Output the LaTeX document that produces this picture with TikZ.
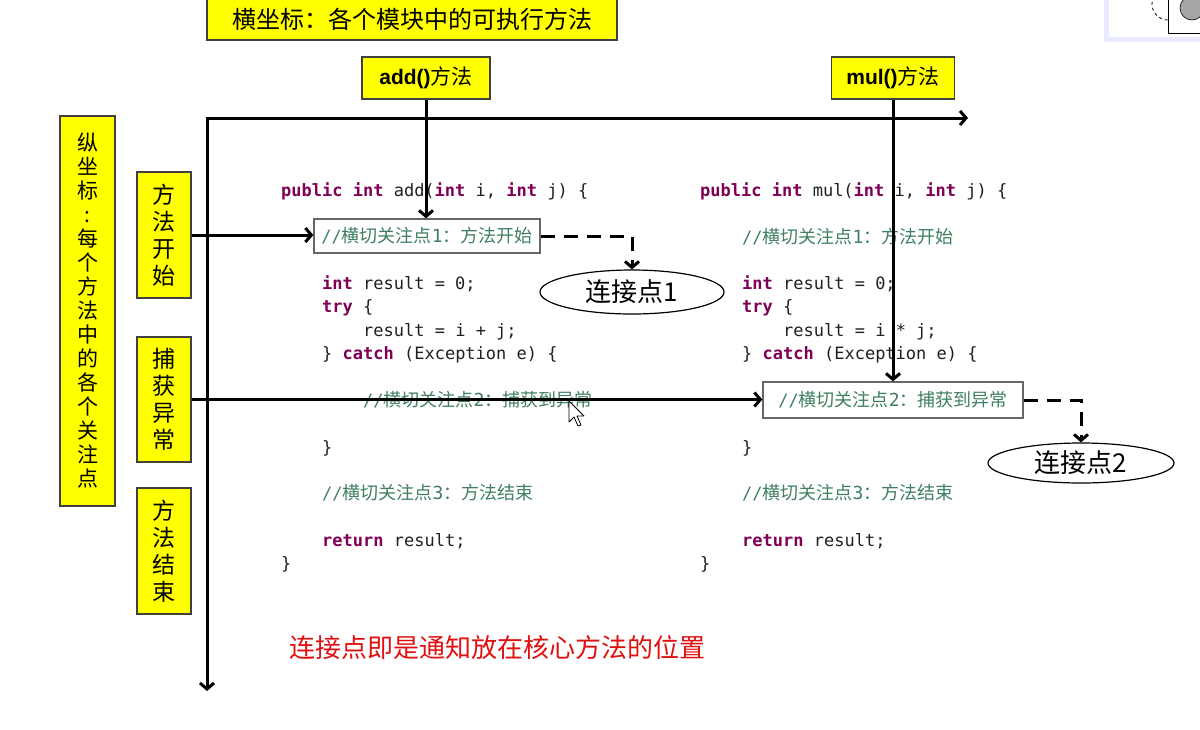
\documentclass[tikz,border=0pt]{standalone}
\usepackage{fontspec}
\usetikzlibrary{arrows.meta,shapes.geometric}
\newfontfamily\cjk{Noto Sans CJK SC}
\newfontfamily\mono{DejaVu Sans Mono}
\newfontfamily\lat{Liberation Sans}
\definecolor{kwc}{HTML}{7F0055}
\definecolor{cmc}{HTML}{3F7F5F}
\definecolor{yel}{HTML}{FFFF00}
\definecolor{codec}{HTML}{202020}
\definecolor{redc}{HTML}{E01010}
\newcommand{\kw}[1]{\textcolor{kwc}{\bfseries #1}}
\newcommand{\cmt}[3]{\textcolor{cmc}{\mono //\cjk\fontsize{18}{20}\selectfont #1\mono #2\cjk\fontsize{18}{20}\selectfont ：#3}}
\begin{document}
\begin{tikzpicture}[x=1pt,y=-1pt,
  ybox/.style={draw=black!75, fill=yel, line width=1.3pt, inner sep=0pt},
  vtext/.style={font=\cjk\fontsize{23}{27}\selectfont, align=center},
  cbox/.style={draw=black!60, line width=1.3pt, fill=white, inner sep=0pt},
  code/.style={anchor=base west, inner sep=0pt, text=codec, font=\mono\fontsize{17}{20}\selectfont},
  conn/.style={line width=3pt, -{Straight Barb[length=6pt,width=14pt]}},
  dconn/.style={line width=3pt, dash pattern=on 14pt off 9pt, -{Straight Barb[length=6pt,width=14pt]}},
  jp/.style={ellipse, draw=black, line width=1.2pt, inner sep=0pt, fill=white, font=\cjk\fontsize{26}{28}\selectfont}
]
\useasboundingbox (0,0) rectangle (1200,729);
\fill[white] (0,0) rectangle (1200,729);

% top-right window artifact
\fill[blue!8] (1104,-2) rectangle (1202,42);
\fill[white] (1109,-2) rectangle (1202,37);
\draw[dashed, line width=0.8pt] (1168,4) circle (16pt);
\fill[white] (1168,-2) rectangle (1202,33);
\draw[line width=0.8pt] (1168,-2) -- (1168,33) -- (1202,33);
\fill[gray!70] (1192,8) circle (12pt);
\draw[line width=0.6pt] (1192,8) circle (12pt);

% title boxes
\node[ybox, minimum width=410pt, minimum height=42pt, font=\cjk\fontsize{24}{26}\selectfont] (title) at (412,19) {横坐标：各个模块中的可执行方法};
\node[ybox, minimum width=128pt, minimum height=42pt, font=\cjk\fontsize{21}{24}\selectfont] (add) at (426,78) {{\lat\bfseries add()}方法};
\node[ybox, minimum width=123pt, minimum height=42pt, font=\cjk\fontsize{21}{24}\selectfont] (mul) at (893,78) {{\lat\bfseries mul()}方法};

% left boxes
\node[ybox, minimum width=55pt, minimum height=390pt, font=\cjk\fontsize{21}{24}\selectfont, align=center] (ylab) at (87.5,311) {纵\\坐\\标\\:\\每\\个\\方\\法\\中\\的\\各\\个\\关\\注\\点};
\node[ybox, vtext, minimum width=54pt, minimum height=126pt] (s1) at (164,235) {方\\法\\开\\始};
\node[ybox, vtext, minimum width=54pt, minimum height=125pt] (s2) at (164,399.5) {捕\\获\\异\\常};
\node[ybox, vtext, minimum width=54pt, minimum height=126pt] (s3) at (164,551) {方\\法\\结\\束};

% code left
\node[code] (l1) at (281,196) {\kw{public} \kw{int} add(\kw{int} i, \kw{int} j) \{};
\node[code] (l3) at (322,289) {\kw{int} result = 0;};
\node[code] (l4) at (322,312) {\kw{try} \{};
\node[code] (l5) at (363,336) {result = i + j;};
\node[code] (l6) at (322,359) {\} \kw{catch} (Exception e) \{};
\node[code] (l7) at (363,406) {\cmt{横切关注点}{2}{捕获到异常}};
\node[code] (l8) at (322,453) {\}};
\node[code] (l9) at (322,499) {\cmt{横切关注点}{3}{方法结束}};
\node[code] (l10) at (322,546) {\kw{return} result;};
\node[code] (l11) at (281,569) {\}};

% code right
\node[code] (r1) at (700,196) {\kw{public} \kw{int} mul(\kw{int} i, \kw{int} j) \{};
\node[code] (r2) at (742,243) {\cmt{横切关注点}{1}{方法开始}};
\node[code] (r3) at (742,289) {\kw{int} result = 0;};
\node[code] (r4) at (742,312) {\kw{try} \{};
\node[code] (r5) at (783,336) {result = i * j;};
\node[code] (r6) at (742,359) {\} \kw{catch} (Exception e) \{};
\node[code] (r8) at (742,453) {\}};
\node[code] (r9) at (742,499) {\cmt{横切关注点}{3}{方法结束}};
\node[code] (r10) at (742,546) {\kw{return} result;};
\node[code] (r11) at (700,569) {\}};

% comment boxes
\node[cbox, minimum width=226pt, minimum height=34pt, font=\mono\fontsize{17}{20}\selectfont] (c1) at (427,236) {\cmt{横切关注点}{1}{方法开始}};
\node[cbox, minimum width=260pt, minimum height=36pt, font=\mono\fontsize{17}{20}\selectfont] (c2) at (893,400) {\cmt{横切关注点}{2}{捕获到异常}};

% join points
\node[jp, minimum width=184pt, minimum height=44pt] (j1) at (632,292) {连接点1};
\node[jp, minimum width=186pt, minimum height=40pt] (j2) at (1081,463) {连接点2};

% axes
\coordinate (O) at (207,118);
\coordinate (xend) at (968,118);
\coordinate (yend) at (207,691);
\draw[line width=3pt, {Straight Barb[length=6pt,width=14pt]}-{Straight Barb[length=6pt,width=14pt]}] (yend) -- (O) -- (xend);

% connectors
\draw[conn] (add.south) -- (add.south |- c1.north);
\draw[conn] (mul.south) -- (mul.south |- c2.north);
\draw[conn] (s1.east) -- (s1.east -| c1.west);
\draw[conn] (s2.east) -- (s2.east -| c2.west);
\draw[dconn] (c1.east) -| (j1.north);
\draw[dconn] (c2.east) -| (j2.north);

% mouse cursor
\draw[fill=white, line width=0.8pt, line join=round] (569,401) -- (569,422) -- (574,417) -- (578,426) -- (581,425) -- (577,416) -- (584,416) -- cycle;

% note
\node[text=redc, font=\cjk\fontsize{26}{28}\selectfont, inner sep=0pt] (note) at (497,648) {连接点即是通知放在核心方法的位置};
\end{tikzpicture}
\end{document}
